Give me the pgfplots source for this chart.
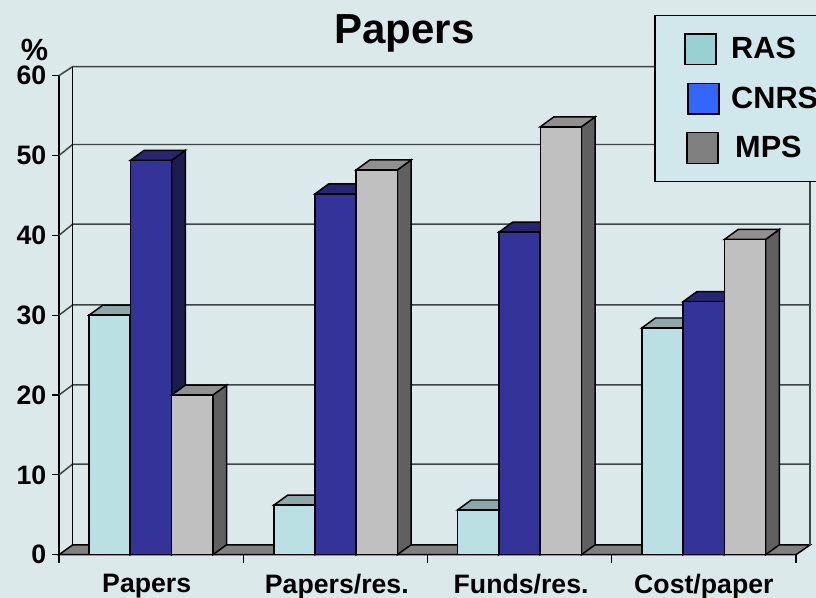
\documentclass[border=0pt]{standalone}
\usepackage{fontspec}
\setmainfont{Liberation Sans}
\usepackage{pgfplots}
\pgfplotsset{compat=1.18}

\definecolor{bgc}{HTML}{DCE9EA}
\definecolor{legbg}{HTML}{D0E8EC}
\definecolor{gridc}{HTML}{3C4444}
\definecolor{floorc}{HTML}{808080}
\definecolor{rasF}{HTML}{BBE0E3}
\definecolor{rasT}{HTML}{8CA8AA}
\definecolor{rasS}{HTML}{5E7072}
\definecolor{rasL}{HTML}{99D0D4}
\definecolor{cnrsF}{HTML}{333399}
\definecolor{cnrsT}{HTML}{262673}
\definecolor{cnrsS}{HTML}{1C1C4F}
\definecolor{cnrsL}{HTML}{3366FF}
\definecolor{mpsF}{HTML}{C0C0C0}
\definecolor{mpsT}{HTML}{909090}
\definecolor{mpsS}{HTML}{606060}
\definecolor{mpsL}{HTML}{808080}

% left edge, value, colour prefix
\newcommand{\threedbar}[3]{%
  \pgfmathsetmacro\xa{#1+0.2235}%
  \pgfmathsetmacro\xb{#1+0.0743}%
  \pgfmathsetmacro\xc{#1+0.2235+0.0743}%
  \pgfmathsetmacro\yb{#2+1.25}%
  \addplot[forget plot,draw=black,line width=1.1pt,fill=#3S] coordinates {(\xa,0)(\xc,1.25)(\xc,\yb)(\xa,#2)} -- cycle;
  \addplot[forget plot,draw=black,line width=1.1pt,fill=#3T] coordinates {(#1,#2)(\xb,\yb)(\xc,\yb)(\xa,#2)} -- cycle;
  \addplot[forget plot,draw=black,line width=1.1pt,fill=#3F] coordinates {(#1,0)(#1,#2)(\xa,#2)(\xa,0)} -- cycle;
}
% front value, height on the back wall
\newcommand{\wallline}[2]{%
  \addplot[forget plot,draw=gridc,line width=1.1pt] coordinates {(0,#1)(0.0735,#2)(4.076,#2)};
}

\begin{document}
\begin{tikzpicture}
\useasboundingbox (0,0) rectangle (612pt,448.5pt);
\clip (0,0) rectangle (612pt,448.5pt);
\fill[bgc] (0,0) rectangle (612pt,448.5pt);
\begin{axis}[
    at={(44.25pt,32.475pt)},
    anchor=south west,
    scale only axis,
    width=552.75pt,
    height=359.25pt,
    xmin=0, xmax=4,
    ymin=0, ymax=60,
    clip=false,
    no markers,
    axis x line*=bottom,
    axis y line*=left,
    axis line style={-,line width=1.1pt,black},
    xtick={0.476,1.508,2.508,3.5},
    xticklabels={Papers,Papers/res.,Funds/res.,Cost/paper},
    minor xtick={0,1,2,3,4},
    ytick={0,10,20,30,40,50,60},
    tick align=outside,
    major tick length=5pt,
    minor tick length=6pt,
    every major x tick/.append style={draw=none},
    every tick/.append style={black,line width=0.9pt},
    /pgf/number format/assume math mode=true,
    tick label style={font=\bfseries\fontsize{20}{24}\selectfont},
    y tick label style={xshift=-1pt},
    x tick label style={yshift=-6.4pt},
    title={Papers},
    every axis title/.style={at={(0.469,1)},anchor=base,yshift=23.8pt,font=\bfseries\fontsize{31.5}{36}\selectfont},
    ylabel={\%},
    every axis y label/.style={at={(axis description cs:-0.0332,1)},anchor=base,yshift=11.25pt,font=\bfseries\fontsize{23}{26}\selectfont},
    legend columns=1,
    legend cell align=left,
    legend style={
        at={(0.8078,1.1267)},
        anchor=north west,
        draw=black,
        line width=1.1pt,
        fill=legbg,
        font=\bfseries\fontsize{23}{26}\selectfont,
        row sep=13pt,
        inner xsep=22pt,
        inner ysep=13pt,
    },
]

% floor
\addplot[forget plot,draw=black,line width=1.1pt,fill=floorc] coordinates {(0,0)(4,0)(4.076,1.22)(0.0735,1.22)} -- cycle;

% walls
\wallline{10}{11.35}
\wallline{20}{21.26}
\wallline{30}{31.28}
\wallline{40}{41.4}
\wallline{50}{51.38}
\wallline{60}{61.13}
\addplot[forget plot,draw=black,line width=1.1pt] coordinates {(0.0735,1.22)(0.0735,61.13)};
\addplot[forget plot,draw=gridc,line width=1.1pt] coordinates {(4.076,1.22)(4.076,61.13)};

% Papers
\threedbar{0.163}{30.0}{ras}
\threedbar{0.3875}{49.4}{cnrs}
\threedbar{0.612}{20.0}{mps}
% Papers/res.
\threedbar{1.166}{6.2}{ras}
\threedbar{1.3895}{45.2}{cnrs}
\threedbar{1.613}{48.2}{mps}
% Funds/res.
\threedbar{2.163}{5.6}{ras}
\threedbar{2.3875}{40.4}{cnrs}
\threedbar{2.612}{53.6}{mps}
% Cost/paper
\threedbar{3.163}{28.4}{ras}
\threedbar{3.3875}{31.7}{cnrs}
\threedbar{3.612}{39.5}{mps}

\addlegendimage{legend image code/.code={\draw[fill=rasL,draw=black,line width=1.1pt] (0pt,-11.5pt) rectangle (23.25pt,11.5pt);}}
\addlegendentry{\hspace*{6.75pt}RAS}
\addlegendimage{legend image code/.code={\draw[fill=cnrsL,draw=black,line width=1.1pt] (2pt,-11.5pt) rectangle (25.25pt,11.5pt);}}
\addlegendentry{\hspace*{6.75pt}CNRS}
\addlegendimage{legend image code/.code={\draw[fill=mpsL,draw=black,line width=1.1pt] (1.5pt,-11.5pt) rectangle (24.75pt,11.5pt);}}
\addlegendentry{\hspace*{9.75pt}MPS}
\end{axis}
\end{tikzpicture}
\end{document}
